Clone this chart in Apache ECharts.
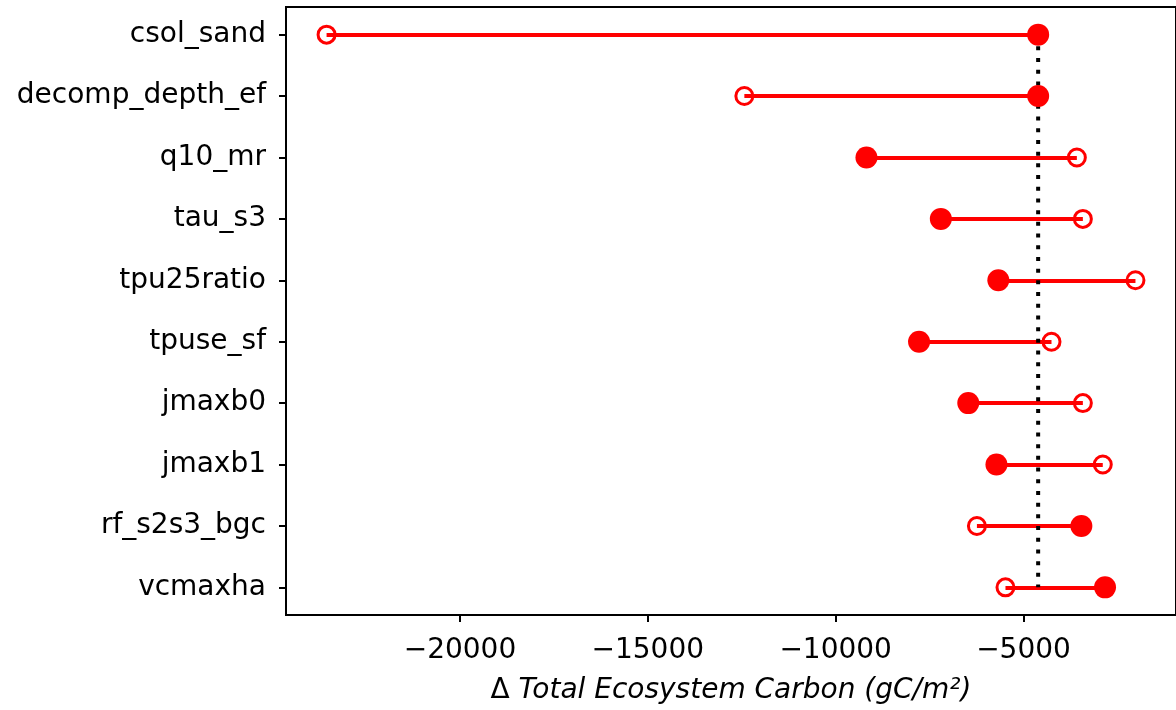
<!DOCTYPE html>
<html>
<head>
<meta charset="utf-8">
<script src="https://cdn.jsdelivr.net/npm/echarts@6/dist/echarts.min.js"></script>
<style>
html,body{margin:0;padding:0;background:#fff;}
#chart{width:1176px;height:710px;}
</style>
</head>
<body>
<div id="chart"></div>
<script>
// ---- data ----
const categories = ["csol_sand","decomp_depth_ef","q10_mr","tau_s3","tpu25ratio","tpuse_sf","jmaxb0","jmaxb1","rf_s2s3_bgc","vcmaxha"];
const openValues   = [-23550, -12430, -3580, -3420, -2020, -4255, -3420, -2890, -6240, -5480];
const filledValues = [-4610, -4610, -9180, -7200, -5670, -7780, -6470, -5720, -3460, -2830];
const referenceValue = -4610;
const xTickValues = [-20000, -15000, -10000, -5000];
const xAxisTitle = "Total Ecosystem Carbon (gC/m²)";

const FONT = "DejaVu Sans";
const RED = "#ff0000";
const idx = categories.map((c, i) => i);

const segments = categories.map((c, i) => ({coords: [[openValues[i], i], [filledValues[i], i]]}));
const openPts = categories.map((c, i) => [openValues[i], i]);
const filledPts = categories.map((c, i) => [filledValues[i], i]);

const chart = echarts.init(document.getElementById('chart'), null, {renderer: 'canvas'});
chart.setOption({
  animation: false,
  backgroundColor: '#fff',
  grid: {left: 286, top: 7, width: 900, height: 611, show: true, borderColor: '#000', borderWidth: 2, backgroundColor: 'transparent', containLabel: false},
  xAxis: {
    type: 'value', min: -24630, max: -941, position: 'bottom',
    axisLine: {show: false, onZero: false},
    splitLine: {show: false},
    axisTick: {show: true, customValues: xTickValues, length: 7, lineStyle: {color: '#000', width: 2}},
    axisLabel: {customValues: xTickValues, margin: 22, color: '#000', fontFamily: FONT, fontSize: 28,
      formatter: v => String(v).replace('-', '\u2212')},
    name: '{u|\u0394 }{i|' + xAxisTitle + '}',
    nameLocation: 'middle', nameGap: 62,
    nameTextStyle: {rich: {
      u: {fontFamily: FONT, fontSize: 28, color: '#000'},
      i: {fontFamily: FONT, fontSize: 28, fontStyle: 'italic', color: '#000'}
    }}
  },
  yAxis: {
    type: 'value', inverse: true, min: -0.45, max: 9.45, position: 'left',
    axisLine: {show: false, onZero: false},
    splitLine: {show: false},
    axisTick: {show: true, customValues: idx, length: 7, lineStyle: {color: '#000', width: 2}},
    axisLabel: {customValues: idx, margin: 20, color: '#000', fontFamily: FONT, fontSize: 28,
      formatter: v => categories[Math.round(v)]}
  },
  series: [
    {type: 'lines', coordinateSystem: 'cartesian2d', z: 2, silent: true,
      lineStyle: {color: RED, width: 4, opacity: 1}, data: segments},
    {type: 'line', z: 3, silent: true, showSymbol: false, symbol: 'none',
      lineStyle: {color: '#000', width: 4, type: [4, 7.7], cap: 'butt'},
      data: [[referenceValue, 0], [referenceValue, categories.length - 1]]},
    {type: 'scatter', z: 4, symbol: 'circle', symbolSize: 17,
      itemStyle: {color: 'rgba(0,0,0,0)', borderColor: RED, borderWidth: 3, opacity: 1},
      data: openPts},
    {type: 'scatter', z: 5, symbol: 'circle', symbolSize: 22,
      itemStyle: {color: RED, opacity: 1},
      data: filledPts}
  ]
});
</script>
</body>
</html>
